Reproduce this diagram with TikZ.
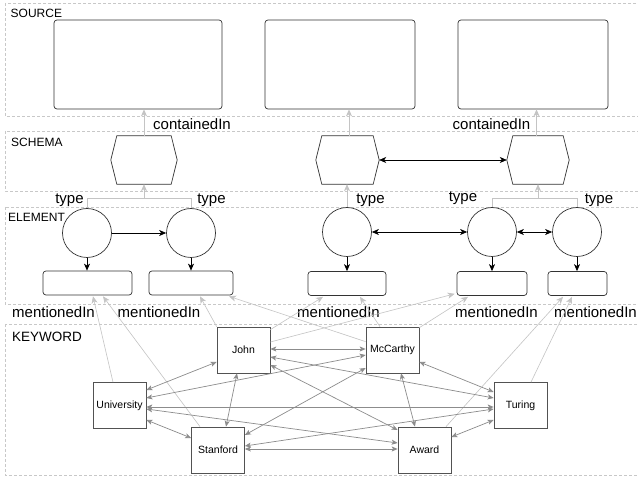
\documentclass[tikz,border=0pt]{standalone}
\usepackage{fontspec}
\setmainfont{Liberation Sans}
\usetikzlibrary{arrows.meta,calc}
\definecolor{bandc}{HTML}{C8C8C8}
\definecolor{lightc}{HTML}{C4C4C4}
\definecolor{kwc}{HTML}{8C8C8C}
\definecolor{darkc}{HTML}{333333}
\begin{document}
\begin{tikzpicture}[x=1pt,y=-1pt,
  bandbox/.style={draw=bandc, dash pattern=on 3pt off 2pt, line width=0.6pt},
  bandlabel/.style={anchor=west, inner sep=0pt, font=\fontsize{12}{14}\selectfont},
  srcbox/.style={draw=darkc, rounded corners=3pt, line width=0.7pt, minimum height=89pt, inner sep=0pt},
  hexnode/.style={minimum height=48pt, inner sep=0pt},
  hexline/.style={draw=darkc, line width=0.7pt, fill=white},
  elcirc/.style={circle, draw=darkc, line width=0.7pt, minimum size=49pt, inner sep=0pt},
  elrect/.style={draw=darkc, rounded corners=3pt, line width=0.7pt, minimum height=24pt, inner sep=0pt},
  kwbox/.style={draw=darkc!85, line width=0.7pt, fill=white, minimum width=53pt, minimum height=46pt, inner sep=0pt, font=\fontsize{10.5}{12}\selectfont},
  lbl/.style={anchor=base, inner sep=0pt, font=\fontsize{15}{18}\selectfont},
  blk/.style={draw=black, line width=0.7pt},
  blkone/.style={blk, -{Stealth[length=7pt,width=6pt,inset=2pt]}},
  blktwo/.style={blk, {Stealth[length=7pt,width=6pt,inset=2pt]}-{Stealth[length=7pt,width=6pt,inset=2pt]}},
  grayarr/.style={draw=lightc, line width=0.8pt, -{Stealth[length=7pt,width=6pt,inset=2pt]}},
  grayln/.style={draw=lightc, line width=0.8pt},
  menarr/.style={draw=lightc, line width=0.6pt, -{Stealth[length=7pt,width=6pt,inset=2pt]}},
  kwarr/.style={draw=kwc, line width=0.7pt, {Stealth[length=6pt,width=5pt,inset=1.5pt]}-{Stealth[length=6pt,width=5pt,inset=1.5pt]}}
]
\useasboundingbox (0,0) rectangle (638,478);
\fill[white] (0,0) rectangle (638,478);

% layer bands
\draw[bandbox] (5,3) rectangle (650,116);
\draw[bandbox] (5,131) rectangle (650,191);
\draw[bandbox] (5,207) rectangle (650,304);
\draw[bandbox] (5,324) rectangle (650,475);
\node[bandlabel] (lsrc) at (10.5,13.5) {SOURCE};
\node[bandlabel] (lsch) at (11,142.5) {SCHEMA};
\node[bandlabel] (lel) at (8,217.5) {ELEMENT};
\node[bandlabel, font=\fontsize{13.5}{16}\selectfont] (lkw) at (12,336.5) {KEYWORD};

% source boxes
\node[srcbox, minimum width=168pt] (src1) at (138,64.5) {};
\node[srcbox, minimum width=150pt] (src2) at (340,64.5) {};
\node[srcbox, minimum width=150pt] (src3) at (533,64.5) {};

% schema hexagons
\node[hexnode, minimum width=66pt] (sch1) at (144,160) {};
\node[hexnode, minimum width=63pt] (sch2) at (347.5,160) {};
\node[hexnode, minimum width=62pt] (sch3) at (538,160) {};
\foreach \h in {sch1,sch2,sch3}{
  \draw[hexline] ($(\h.north west)+(6,0)$) -- ($(\h.north east)+(-6,0)$) -- (\h.east)
    -- ($(\h.south east)+(-6,0)$) -- ($(\h.south west)+(6,0)$) -- (\h.west) -- cycle;
}

% element circles and boxes
\node[elcirc] (el1) at (87,233) {};
\node[elcirc] (el2) at (191,233) {};
\node[elcirc] (el3) at (347,232) {};
\node[elcirc] (el4) at (492,232) {};
\node[elcirc] (el5) at (577,232) {};
\node[elrect, minimum width=89pt] (er1) at (87.5,283) {};
\node[elrect, minimum width=84pt] (er2) at (191,283) {};
\node[elrect, minimum width=78pt] (er3) at (347,283.5) {};
\node[elrect, minimum width=70pt] (er4) at (492,283.5) {};
\node[elrect, minimum width=59pt] (er5) at (577.5,283.5) {};

% containedIn
\draw[grayarr] (sch1.north) -- (sch1.north |- src1.south);
\draw[grayarr] ($(sch2.north)+(1.5,0)$) -- ($(sch2.north |- src2.south)+(1.5,0)$);
\draw[grayarr] ($(sch3.north)+(-1.5,0)$) -- ($(sch3.north |- src3.south)+(-1.5,0)$);
\node[lbl] (ci1) at (192,129.5) {containedIn};
\node[lbl] (ci2) at (491.5,129.5) {containedIn};

% type
\coordinate (j1) at (144,198);
\coordinate (j3) at (538,198);
\draw[grayarr] (el1.north) |- (j1) -- (sch1.south);
\draw[grayln] (el2.north) |- (j1);
\draw[grayarr] (el3.north) -- (el3.north |- sch2.south);
\draw[grayarr] (el4.north) |- (j3) -- (sch3.south);
\draw[grayln] (el5.north) |- (j3);
\node[lbl] (t1) at (69.5,204) {type};
\node[lbl] (t2) at (211.5,204) {type};
\node[lbl] (t3) at (370.5,204) {type};
\node[lbl] (t4) at (463,201.5) {type};
\node[lbl] (t5) at (599,204) {type};

% black element arrows
\draw[blktwo] (sch2.east) -- (sch3.west);
\draw[blkone] (el1) -- (el2);
\draw[blktwo] (el3) -- (el4);
\draw[blktwo] (el4) -- (el5);
\foreach \i in {1,...,5}{
  \draw[blkone] (el\i.south) -- (el\i.south |- er\i.north);
}

% mentionedIn labels
\node[lbl] (m1) at (53.5,318) {mentionedIn};
\node[lbl] (m2) at (159,318) {mentionedIn};
\node[lbl] (m3) at (338.5,318) {mentionedIn};
\node[lbl] (m4) at (496.5,318) {mentionedIn};
\node[lbl] (m5) at (595.5,318) {mentionedIn};

% keyword nodes
\node[kwbox] (kJohn) at (243.5,350) {John};
\node[kwbox] (kUni) at (119.5,405.5) {University};
\node[kwbox] (kSta) at (218,450) {Stanford};
\node[kwbox] (kMcC) at (392.5,350) {McCarthy};
\node[kwbox] (kTur) at (520.5,405.5) {Turing};
\node[kwbox] (kAwd) at (424.5,450) {Award};

% mentionedIn connectors
\draw[menarr] ($(kUni.north)+(-6.5,0)$) -- ($(er1.south)+(5.5,1)$);
\draw[menarr] ($(kSta.north)+(-18,0)$) -- ($(er1.south)+(15.5,1)$);
\draw[menarr] (kJohn.north west) -- ($(er2.south)+(9,1)$);
\draw[menarr] ($(kMcC.north west)+(0,15)$) -- ($(er2.south)+(38,1)$);
\draw[menarr] ($(kJohn.north east)+(0,3)$) -- ($(er3.south)+(-24,1)$);
\draw[menarr] ($(kMcC.north)+(-12.5,0)$) -- ($(er3.south)+(13,1)$);
\draw[menarr] ($(kJohn.east)+(0,-8)$) -- ($(er4.south west)+(-2,-2)$);
\draw[menarr] ($(kMcC.north east)+(0,1)$) -- ($(er4.south)+(-24,1)$);
\draw[menarr] ($(kAwd.north)+(21.5,0)$) -- ($(er5.south)+(-14.5,1)$);
\draw[menarr] ($(kTur.north)+(10.5,0)$) -- ($(er5.south)+(-5.5,1)$);

% keyword relations
\draw[kwarr] ($(kUni.east)+(0,-15.5)$) -- ($(kJohn.west)+(0,12)$);
\draw[kwarr] ($(kUni.east)+(0,14.5)$) -- ($(kSta.west)+(0,-12)$);
\draw[kwarr] ($(kJohn.south)+(-6.5,0)$) -- ($(kSta.north)+(8,0)$);
\draw[kwarr] ($(kJohn.east)+(0,-1)$) -- ($(kMcC.west)+(0,-1)$);
\draw[kwarr] ($(kUni.east)+(0,-7.5)$) -- ($(kMcC.west)+(0,5)$);
\draw[kwarr] ($(kSta.east)+(0,-15)$) -- ($(kMcC.west)+(0,18)$);
\draw[kwarr] ($(kMcC.south)+(8.5,0)$) -- ($(kAwd.north)+(-9.5,0)$);
\draw[kwarr] ($(kMcC.east)+(0,12)$) -- ($(kTur.west)+(0,-13.5)$);
\draw[kwarr] ($(kJohn.east)+(0,7)$) -- ($(kTur.west)+(0,-7.5)$);
\draw[kwarr] ($(kUni.east)+(0,1.5)$) -- ($(kTur.west)+(0,1.5)$);
\draw[kwarr] ($(kSta.east)+(0,-4)$) -- ($(kTur.west)+(0,3.5)$);
\draw[kwarr] ($(kAwd.east)+(0,-13)$) -- ($(kTur.west)+(0,14.5)$);
\draw[kwarr] ($(kJohn.east)+(0,15)$) -- ($(kAwd.west)+(0,-20)$);
\draw[kwarr] ($(kUni.east)+(0,3.5)$) -- ($(kAwd.west)+(0,-7)$);
\draw[kwarr] ($(kSta.east)+(0,-1)$) -- ($(kAwd.west)+(0,-1)$);
\end{tikzpicture}
\end{document}
